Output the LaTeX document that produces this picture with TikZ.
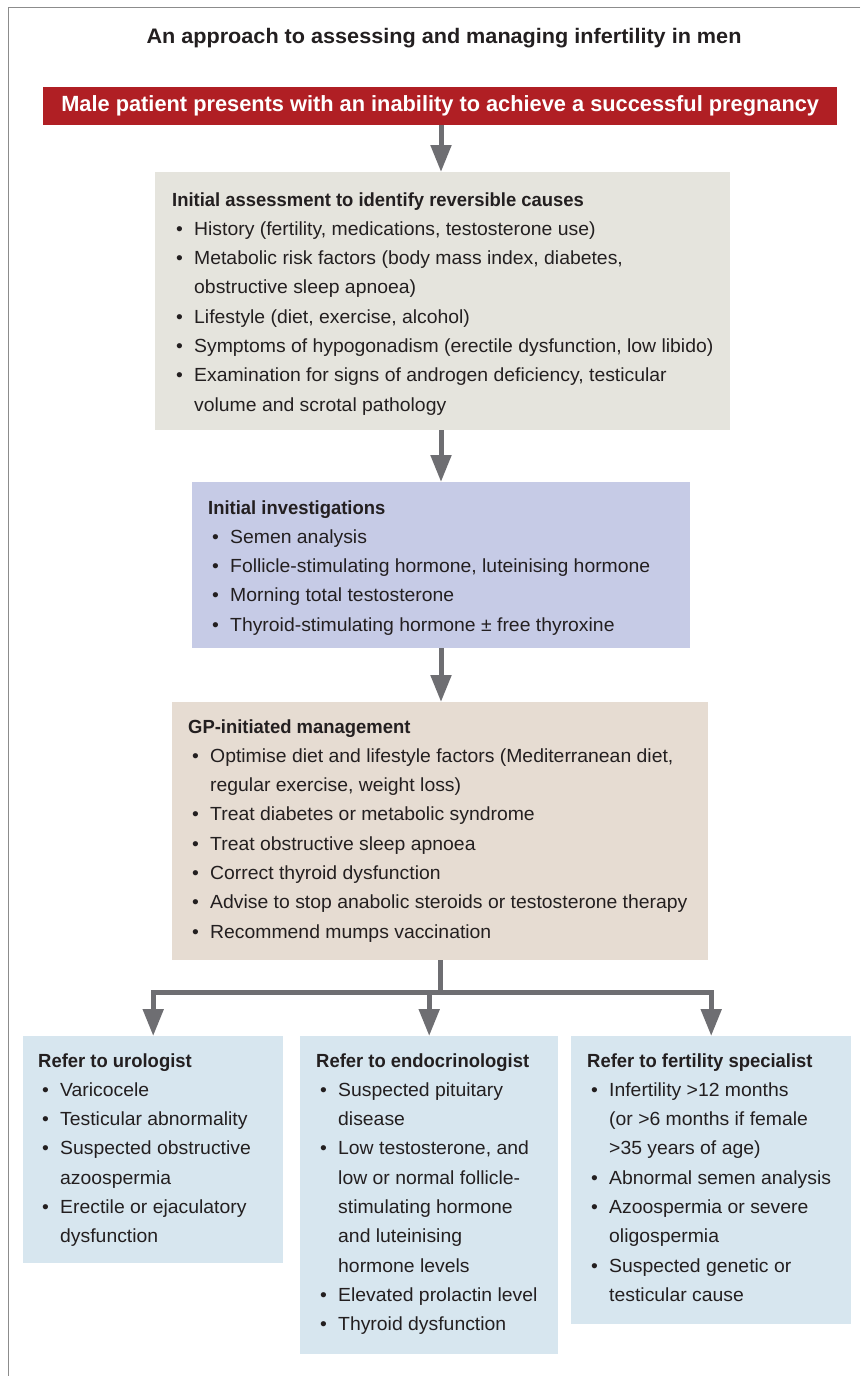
\documentclass[tikz,border=0pt]{standalone}
\usepackage{fontspec}
\setmainfont{Liberation Sans}
\newfontfamily\bodyfont[FakeStretch=1.02]{Liberation Sans}
\newfontfamily\headfont[FakeStretch=0.97]{Liberation Sans}
\newfontfamily\titlefont[FakeStretch=1.03]{Liberation Sans}
\newfontfamily\redfont[FakeStretch=0.99]{Liberation Sans}
\usetikzlibrary{arrows.meta,calc}
\definecolor{redc}{HTML}{B01F24}
\definecolor{boxA}{HTML}{E5E4DD}
\definecolor{boxB}{HTML}{C6CBE6}
\definecolor{boxC}{HTML}{E6DCD2}
\definecolor{boxD}{HTML}{D7E6EF}
\definecolor{arrowc}{HTML}{6E6E72}
\definecolor{framec}{HTML}{8C8C8C}
\definecolor{ink}{HTML}{231F20}
\newcommand\bul{\makebox[22pt][l]{\hspace*{4pt}•}}
\newcommand\cont{\hspace*{22pt}}
\newcommand\hd[1]{{\headfont\bfseries #1}}
\tikzset{
  panel/.style={draw=none, inner sep=0pt, anchor=north west},
  txt/.style={inner sep=0pt, anchor=base west, text=ink, align=left,
    font=\bodyfont\fontsize{19}{29.3}\selectfont},
  link/.style={draw=arrowc, line width=5pt},
  arr/.style={link, -{Triangle[length=27pt,width=20pt]}},
}
\begin{document}
\begin{tikzpicture}[x=1pt,y=1pt]
\useasboundingbox (0,0) rectangle (860,-1376);
\fill[white] (0,0) rectangle (860,-1376);
\draw[framec, line width=1.5pt] (860,-7.5) -- (8.5,-7.5) -- (8.5,-1376);

\node[inner sep=0pt, text=ink, font=\titlefont\bfseries\fontsize{21}{25}\selectfont] (title) at (444,-38)
  {An approach to assessing and managing infertility in men};

\node[panel, fill=redc, minimum width=794pt, minimum height=38pt] (start) at (43,-87) {};
\node[inner sep=0pt, text=white, font=\redfont\bfseries\fontsize{22}{26}\selectfont] (starttext) at (start.center)
  {Male patient presents with an inability to achieve a successful pregnancy};

\node[panel, fill=boxA, minimum width=575pt, minimum height=258pt] (b1) at (155,-172) {};
\node[txt] (t1) at ($(b1.north west)+(17,-34)$) {\begin{tabular}[t]{@{}l@{}}
\hd{Initial assessment to identify reversible causes}\\
\bul History (fertility, medications, testosterone use)\\
\bul Metabolic risk factors (body mass index, diabetes,\\
\cont obstructive sleep apnoea)\\
\bul Lifestyle (diet, exercise, alcohol)\\
\bul Symptoms of hypogonadism (erectile dysfunction, low libido)\\
\bul Examination for signs of androgen deficiency, testicular\\
\cont volume and scrotal pathology
\end{tabular}};

\node[panel, fill=boxB, minimum width=498pt, minimum height=166pt] (b2) at (192,-482) {};
\node[txt] (t2) at ($(b2.north west)+(16,-32)$) {\begin{tabular}[t]{@{}l@{}}
\hd{Initial investigations}\\
\bul Semen analysis\\
\bul Follicle-stimulating hormone, luteinising hormone\\
\bul Morning total testosterone\\
\bul Thyroid-stimulating hormone ± free thyroxine
\end{tabular}};

\node[panel, fill=boxC, minimum width=536pt, minimum height=258pt] (b3) at (172,-702) {};
\node[txt] (t3) at ($(b3.north west)+(16,-31)$) {\begin{tabular}[t]{@{}l@{}}
\hd{GP-initiated management}\\
\bul Optimise diet and lifestyle factors (Mediterranean diet,\\
\cont regular exercise, weight loss)\\
\bul Treat diabetes or metabolic syndrome\\
\bul Treat obstructive sleep apnoea\\
\bul Correct thyroid dysfunction\\
\bul Advise to stop anabolic steroids or testosterone therapy\\
\bul Recommend mumps vaccination
\end{tabular}};

\node[panel, fill=boxD, minimum width=260pt, minimum height=227pt] (bl) at (23,-1036) {};
\node[txt] (tl) at ($(bl.north west)+(15,-31)$) {\begin{tabular}[t]{@{}l@{}}
\hd{Refer to urologist}\\
\bul Varicocele\\
\bul Testicular abnormality\\
\bul Suspected obstructive\\
\cont azoospermia\\
\bul Erectile or ejaculatory\\
\cont dysfunction
\end{tabular}};

\node[panel, fill=boxD, minimum width=258pt, minimum height=318pt] (bm) at (300,-1036) {};
\node[txt] (tm) at ($(bm.north west)+(16,-31)$) {\begin{tabular}[t]{@{}l@{}}
\hd{Refer to endocrinologist}\\
\bul Suspected pituitary\\
\cont disease\\
\bul Low testosterone, and\\
\cont low or normal follicle-\\
\cont stimulating hormone\\
\cont and luteinising\\
\cont hormone levels\\
\bul Elevated prolactin level\\
\bul Thyroid dysfunction
\end{tabular}};

\node[panel, fill=boxD, minimum width=280pt, minimum height=288pt] (br) at (571,-1036) {};
\node[txt] (tr) at ($(br.north west)+(16,-31)$) {\begin{tabular}[t]{@{}l@{}}
\hd{Refer to fertility specialist}\\
\bul Infertility >12 months\\
\cont (or >6 months if female\\
\cont >35 years of age)\\
\bul Abnormal semen analysis\\
\bul Azoospermia or severe\\
\cont oligospermia\\
\bul Suspected genetic or\\
\cont testicular cause
\end{tabular}};

\coordinate (split) at (440,-992);
\draw[arr] (start.south -| 441,0) -- (b1.north -| 441,0);
\draw[arr] (b1.south -| 441,0) -- (b2.north -| 441,0);
\draw[arr] (b2.south -| 441,0) -- (b3.north -| 441,0);
\draw[link] (b3.south -| split) -- (split);
\draw[arr] (split) -| (bl.north);
\draw[arr] (split) -| (br.north);
\draw[arr] (split -| bm.north) -- (bm.north);
\end{tikzpicture}
\end{document}
